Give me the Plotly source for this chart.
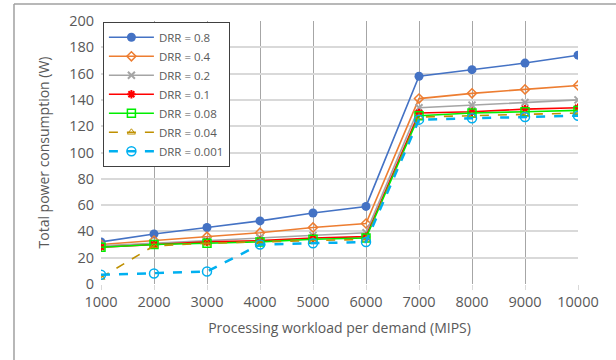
import plotly.graph_objects as go

workload = [1000, 2000, 3000, 4000, 5000, 6000, 7000, 8000, 9000, 10000]
x_tick_text = ["1000", "2000", "3000", "4000", "5000", "6000", "7000", "8000", "9000", "10000"]
drr_labels = ["DRR = 0.8", "DRR = 0.4", "DRR = 0.2", "DRR = 0.1", "DRR = 0.08", "DRR = 0.04", "DRR = 0.001"]
drr_08 = [32, 38, 43, 48, 54, 59, 158, 163, 168, 174]
drr_04 = [30, 33, 36, 39, 43, 46, 141, 145, 148, 151]
drr_02 = [29, 31, 33, 35, 37, 39, 134, 136, 138, 140]
drr_01 = [28, 30, 32, 33, 35, 36, 130, 131, 133, 134]
drr_008 = [28, 30, 31, 32, 34, 35, 128, 130, 131, 132]
drr_004 = [5, 29, 31, 32, 33, 34, 127, 128, 129, 130]
drr_0001 = [7, 8, 9.5, 30, 31, 32, 125, 126, 127, 128]
y_ticks = list(range(0, 201, 20))

series = [drr_08, drr_04, drr_02, drr_01, drr_008, drr_004, drr_0001]
styles = [
    dict(color="#4472C4", dash="solid", width=1.6, symbol="circle", size=9, mline=0),
    dict(color="#ED7D31", dash="solid", width=1.6, symbol="diamond-open", size=7, mline=1.5),
    dict(color="#A5A5A5", dash="solid", width=1.6, symbol="x-thin-open", size=7, mline=2),
    dict(color="#FF0000", dash="solid", width=1.6, symbol="asterisk-open", size=7, mline=2),
    dict(color="#00EE00", dash="solid", width=1.6, symbol="square-open", size=8, mline=1.5),
    dict(color="#BF9000", dash="dash", width=1.6, symbol="triangle-up-open", size=7, mline=1),
    dict(color="#00B0F0", dash="dash", width=2.5, symbol="circle-open", size=9, mline=1.5),
]

fig = go.Figure()
for name, vals, st in zip(drr_labels, series, styles):
    fig.add_trace(go.Scatter(
        x=workload, y=vals, name=name, mode="lines+markers",
        line=dict(color=st["color"], dash=st["dash"], width=st["width"]),
        marker=dict(symbol=st["symbol"], size=st["size"], color=st["color"],
                    line=dict(color=st["color"], width=st["mline"])),
    ))

font_family = "Open Sans"
fig.update_layout(
    width=616, height=360,
    margin=dict(l=101, r=38, t=21, b=76),
    paper_bgcolor="white", plot_bgcolor="white",
    font=dict(family=font_family, color="#595959", size=14),
    showlegend=True,
    legend=dict(x=0.004, y=0.997, xanchor="left", yanchor="top",
                bgcolor="white", bordercolor="#404040", borderwidth=1,
                font=dict(size=11.5, color="#595959"), tracegroupgap=0,
                itemwidth=45),
    xaxis=dict(range=[1000, 10000], tickvals=workload, ticktext=x_tick_text, showgrid=True,
               gridcolor="#A6A6A6", gridwidth=1, zeroline=False,
               showline=False, ticks="outside", tickcolor="#D9D9D9", ticklen=5,
               title=dict(text="Processing workload per demand (MIPS)", font=dict(size=14), standoff=12),
               tickfont=dict(size=14.5)),
    yaxis=dict(range=[0, 200], tickvals=y_ticks, showgrid=True,
               gridcolor="#D9D9D9", gridwidth=1.5, zeroline=False, showline=False,
               title=dict(text="Total power consumption (W)", font=dict(size=14), standoff=16),
               tickfont=dict(size=14.5), ticklabelstandoff=6),
    shapes=[
        dict(type="line", xref="paper", yref="paper", x0=-0.1824, x1=-0.1824, y0=1.065, y1=-0.35,
             line=dict(color="#A0A0A0", width=1.5)),
        dict(type="line", xref="paper", yref="paper", x0=-0.1824, x1=1.1, y0=1.065, y1=1.065,
             line=dict(color="#A0A0A0", width=1.5)),
    ],
)

fig.write_html("out.html")
